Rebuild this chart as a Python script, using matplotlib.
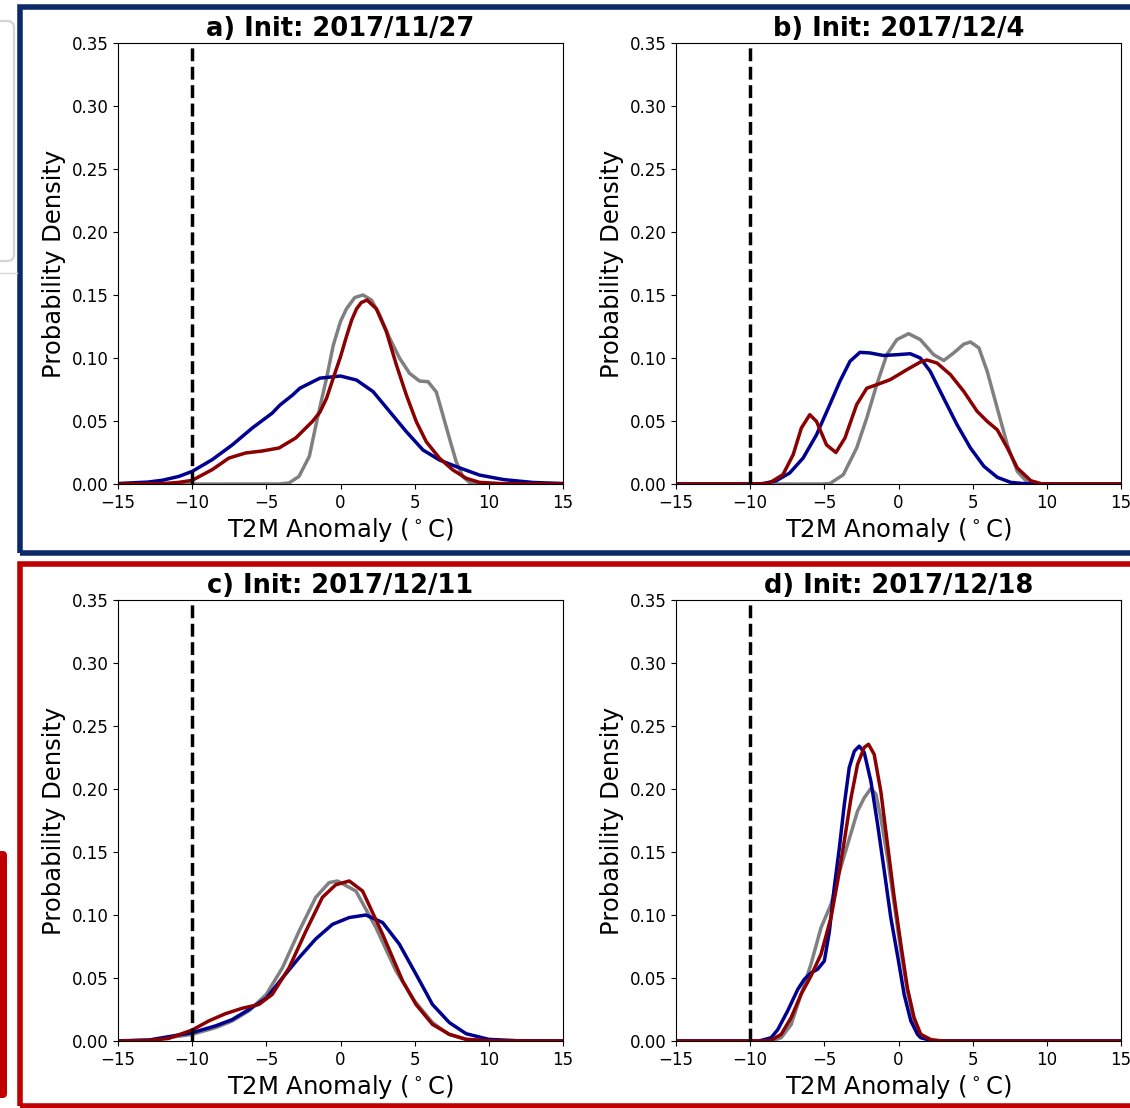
import matplotlib
matplotlib.use("Agg")
import matplotlib.pyplot as plt
from matplotlib.patches import Rectangle, FancyBboxPatch
from matplotlib.lines import Line2D

# values (T2M anomaly, probability density)
titles = ["a) Init: 2017/11/27", "b) Init: 2017/12/4",
          "c) Init: 2017/12/11", "d) Init: 2017/12/18"]

# panel a
a_gray_x = [-15, -4.2, -3.47, -2.8, -2.1, -1.67, -1.33, -0.94, -0.49, 0, 0.4, 0.96, 1.52, 2.09, 2.65, 3.32, 3.99, 4.66, 5.33, 5.9, 6.46, 6.9, 7.35, 7.8, 8.25, 8.7, 9.3, 15]
a_gray_y = [0, 0, 0.0008, 0.006, 0.022, 0.046, 0.064, 0.084, 0.110, 0.129, 0.139, 0.148, 0.150, 0.146, 0.134, 0.1156, 0.0997, 0.0878, 0.0817, 0.0812, 0.073, 0.0548, 0.036, 0.0177, 0.0058, 0.0013, 0, 0]
a_blue_x = [-15, -13, -12, -10.9, -10, -8.65, -7.3, -5.95, -4.6, -4.08, -3.24, -2.74, -1.39, 0, 1.08, 2.2, 3.32, 4.44, 5.56, 6.68, 7.8, 9.37, 11, 13, 15]
a_blue_y = [0.0004, 0.0015, 0.003, 0.006, 0.010, 0.0193, 0.031, 0.0444, 0.0563, 0.0627, 0.0705, 0.076, 0.084, 0.0857, 0.0825, 0.0733, 0.0574, 0.0415, 0.027, 0.019, 0.0138, 0.0071, 0.0035, 0.0012, 0.0004]
a_red_x = [-15, -12, -10.9, -10, -8.65, -7.52, -6.4, -5.27, -4.14, -3.02, -1.89, -1.39, -0.94, -0.49, 0, 0.4, 0.75, 1.08, 1.4, 1.79, 2.42, 3.09, 3.77, 4.44, 5.11, 5.78, 6.68, 7.58, 8.48, 9.37, 11, 15]
a_red_y = [0, 0.0003, 0.0013, 0.0029, 0.0114, 0.0206, 0.0246, 0.0262, 0.0286, 0.0365, 0.0497, 0.057, 0.068, 0.084, 0.101, 0.117, 0.130, 0.139, 0.144, 0.146, 0.139, 0.121, 0.0944, 0.0706, 0.0495, 0.0336, 0.0204, 0.0111, 0.0045, 0.0013, 0.0002, 0]

# panel b
b_gray_x = [-15, -5.2, -4.63, -3.72, -2.82, -2.14, -1.47, -0.79, -0.11, 0.68, 1.47, 2.37, 3.05, 3.72, 4.4, 4.85, 5.42, 5.98, 6.66, 7.34, 8.01, 8.69, 9.4, 15]
b_gray_y = [0, 0, 0.0003, 0.0074, 0.0286, 0.0524, 0.0788, 0.1026, 0.1146, 0.1193, 0.1146, 0.1026, 0.098, 0.104, 0.111, 0.1127, 0.108, 0.0894, 0.060, 0.031, 0.010, 0.0013, 0, 0]
b_blue_x = [-15, -9.8, -9.14, -8.24, -7.34, -6.43, -5.53, -4.63, -3.95, -3.27, -2.6, -1.92, -1.02, -0.11, 0.79, 1.47, 2.14, 3.05, 3.95, 4.85, 5.76, 6.66, 7.56, 8.47, 9.3, 15]
b_blue_y = [0, 0, 0.0003, 0.0026, 0.0087, 0.0206, 0.039, 0.063, 0.0815, 0.0974, 0.1045, 0.104, 0.102, 0.1026, 0.1034, 0.100, 0.0894, 0.068, 0.047, 0.0286, 0.014, 0.0053, 0.0013, 0.0003, 0, 0]
b_red_x = [-15, -9.4, -8.7, -7.79, -7.1, -6.55, -5.98, -5.53, -4.85, -4.22, -3.61, -2.82, -2.14, -1.47, -0.56, 0.56, 1.47, 1.92, 2.6, 3.5, 4.4, 5.3, 5.98, 6.66, 7.34, 8.01, 8.92, 9.7, 15]
b_red_y = [0, 0, 0.0008, 0.0074, 0.0233, 0.0444, 0.055, 0.0497, 0.031, 0.025, 0.0365, 0.063, 0.076, 0.0788, 0.0828, 0.0907, 0.0968, 0.0984, 0.096, 0.0868, 0.0735, 0.0577, 0.0497, 0.043, 0.0286, 0.0127, 0.0026, 0, 0]

# panel c
c_gray_x = [-15, -12.9, -10, -8.42, -7.3, -6.17, -5, -3.92, -2.8, -1.67, -0.77, -0.2, 1.04, 2.39, 3.74, 5, 6.2, 7.3, 8.47, 10, 15]
c_gray_y = [0, 0.0005, 0.0053, 0.0106, 0.0159, 0.024, 0.037, 0.058, 0.087, 0.114, 0.1257, 0.127, 0.119, 0.090, 0.0556, 0.0317, 0.0146, 0.0053, 0.0013, 0.0002, 0]
c_blue_x = [-15, -12.9, -10, -8.42, -7.3, -6.17, -5, -3.92, -2.8, -1.67, -0.54, 0.59, 1.71, 2.84, 3.96, 5.09, 6.2, 7.34, 8.47, 10, 12, 15]
c_blue_y = [0.0001, 0.0008, 0.0066, 0.012, 0.017, 0.025, 0.034, 0.050, 0.066, 0.081, 0.0926, 0.098, 0.100, 0.094, 0.077, 0.053, 0.029, 0.0146, 0.0058, 0.0013, 0.0002, 0]
c_red_x = [-15, -12.9, -11.6, -10, -8.87, -7.75, -6.62, -5.5, -4.6, -3.47, -2.34, -1.22, -0.32, 0.59, 1.49, 2.84, 4.19, 5.09, 6.2, 7.34, 8.47, 10, 15]
c_red_y = [0, 0.0005, 0.002, 0.0087, 0.016, 0.0217, 0.026, 0.029, 0.037, 0.058, 0.087, 0.114, 0.124, 0.127, 0.119, 0.0847, 0.0476, 0.029, 0.0132, 0.0053, 0.0013, 0.0002, 0]

# panel d
d_gray_x = [-15, -8.6, -7.91, -7.24, -6.57, -5.9, -5.22, -4.55, -4.1, -3.43, -2.76, -2.31, -1.86, -1.52, -1.19, -0.74, -0.29, 0.16, 0.6, 1.05, 1.5, 2.3, 3, 15]
d_gray_y = [0, 0, 0.0026, 0.013, 0.037, 0.061, 0.090, 0.1085, 0.1296, 0.156, 0.1825, 0.193, 0.2005, 0.196, 0.177, 0.1455, 0.1085, 0.0714, 0.040, 0.016, 0.004, 0.0005, 0, 0]
d_blue_x = [-15, -9.4, -8.59, -8.14, -7.47, -6.79, -6.35, -5.9, -5.45, -5, -4.66, -4.33, -3.99, -3.65, -3.32, -2.98, -2.65, -2.31, -1.86, -1.41, -0.96, -0.52, 0, 0.38, 0.83, 1.28, 1.5, 2.2, 3, 15]
d_blue_y = [0, 0, 0.0026, 0.009, 0.024, 0.041, 0.049, 0.054, 0.057, 0.0635, 0.087, 0.122, 0.153, 0.188, 0.217, 0.230, 0.234, 0.229, 0.206, 0.172, 0.135, 0.098, 0.0635, 0.037, 0.016, 0.0053, 0.0026, 0.0004, 0, 0]
d_red_x = [-15, -9.2, -8.59, -7.91, -7.24, -6.57, -5.9, -5.22, -4.55, -4.1, -3.65, -3.2, -2.76, -2.31, -2.02, -1.64, -1.19, -0.74, -0.29, 0.16, 0.6, 1.05, 1.5, 2.2, 3, 15]
d_red_y = [0, 0, 0.0005, 0.0053, 0.0185, 0.037, 0.0516, 0.069, 0.098, 0.127, 0.159, 0.193, 0.2196, 0.233, 0.2355, 0.2275, 0.198, 0.156, 0.114, 0.0767, 0.042, 0.0185, 0.0053, 0.001, 0, 0]

panels = [
    (a_gray_x, a_gray_y, a_blue_x, a_blue_y, a_red_x, a_red_y),
    (b_gray_x, b_gray_y, b_blue_x, b_blue_y, b_red_x, b_red_y),
    (c_gray_x, c_gray_y, c_blue_x, c_blue_y, c_red_x, c_red_y),
    (d_gray_x, d_gray_y, d_blue_x, d_blue_y, d_red_x, d_red_y),
]

W, H = 1130, 1108
fig = plt.figure(figsize=(W / 100, H / 100), dpi=100)


def fx(px):
    return px / W


def fy(py):
    return 1 - py / H


# axes boxes in pixels: left, top
boxes = [(118, 43), (676, 43), (118, 600), (676, 600)]
aw, ah = 445, 441

for i, (left, top) in enumerate(boxes):
    ax = fig.add_axes([fx(left), fy(top + ah), aw / W, ah / H])
    gx, gy, bx, by, rx, ry = panels[i]
    ax.plot(gx, gy, color="gray", lw=2.5, solid_joinstyle="round")
    ax.plot(bx, by, color="#000090", lw=2.5, solid_joinstyle="round")
    ax.plot(rx, ry, color="#8b0000", lw=2.5, solid_joinstyle="round")
    ax.axvline(-10, color="black", ls="--", lw=2.5)
    ax.set_xlim(-15, 15)
    ax.set_ylim(0, 0.35)
    ax.set_xticks([-15, -10, -5, 0, 5, 10, 15])
    ax.set_yticks([0, 0.05, 0.10, 0.15, 0.20, 0.25, 0.30, 0.35])
    ax.set_yticklabels(["%.2f" % v for v in ax.get_yticks()])
    ax.tick_params(labelsize=12)
    ax.set_title(titles[i], fontsize=18.5, fontweight="bold", pad=5)
    ax.set_ylabel("Probability Density", fontsize=17.5)
    ax.set_xlabel(r"T2M Anomaly ($^\circ$C)", fontsize=17.5, labelpad=3)

# coloured frames around the two rows
fig.patches.append(Rectangle((fx(20), fy(553)), fx(1140) - fx(20), (553 - 6.5) / H,
                             fill=False, edgecolor="#0c2a6a", lw=4, transform=fig.transFigure))
fig.patches.append(Rectangle((fx(20), fy(1105.5)), fx(1140) - fx(20), (1105.5 - 563.5) / H,
                             fill=False, edgecolor="#c00000", lw=4, transform=fig.transFigure))

# bits of page around the figure
fig.patches.append(FancyBboxPatch((fx(-20), fy(261)), fx(34), (261 - 21) / H,
                                  boxstyle="round,pad=0,rounding_size=0.006",
                                  fill=False, edgecolor="#d4d4d4", lw=1.6,
                                  transform=fig.transFigure))
fig.lines.append(Line2D([0, fx(17)], [fy(273), fy(273)], color="#d8d8d8", lw=1,
                        transform=fig.transFigure))
fig.patches.append(FancyBboxPatch((fx(-10), fy(1098)), fx(17), (1098 - 851) / H,
                                  boxstyle="round,pad=0,rounding_size=0.004",
                                  facecolor="#c00000", edgecolor="none",
                                  transform=fig.transFigure))

fig.savefig("out.png", dpi=100)
